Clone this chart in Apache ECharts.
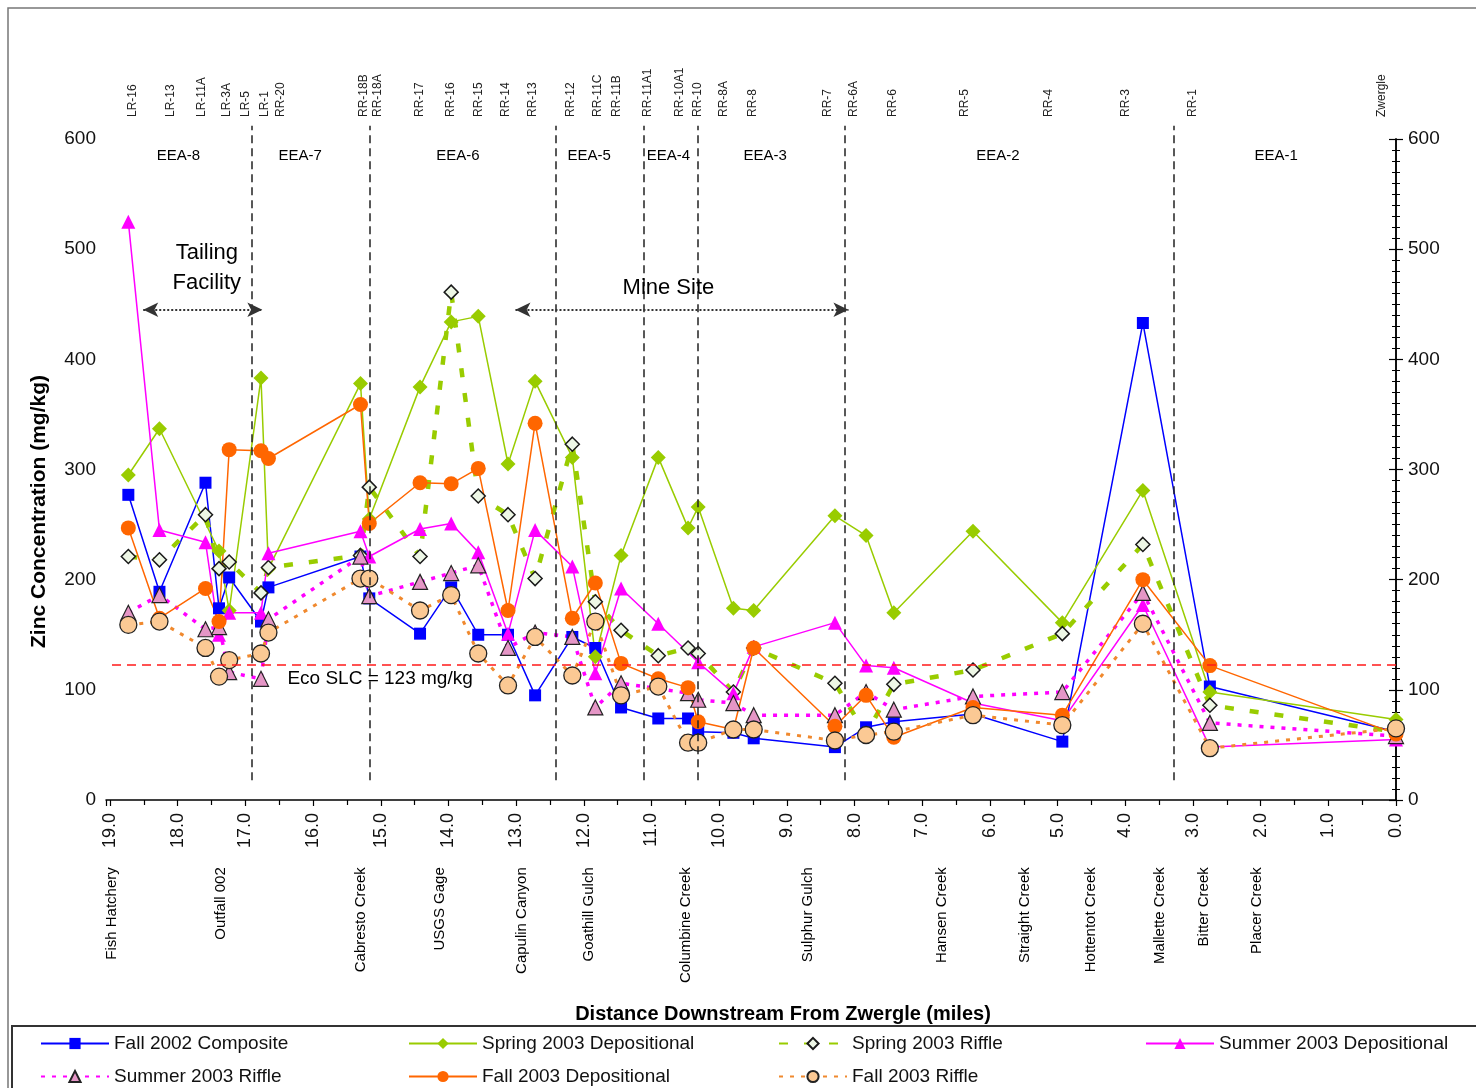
<!DOCTYPE html>
<html><head><meta charset="utf-8">
<script src="https://cdn.jsdelivr.net/npm/echarts@6/dist/echarts.min.js"></script>
<style>html,body{margin:0;padding:0;background:#fff}#c{width:1476px;height:1088px}</style>
</head><body><div id="c"></div>
<script>
// ---------- DATA ----------
const stations = ['LR-16','LR-13','LR-11A','LR-3A','LR-5','LR-1','RR-20','RR-18B','RR-18A','RR-17','RR-16','RR-15','RR-14','RR-13','RR-12','RR-11C','RR-11B','RR-11A1','RR-10A1','RR-10','RR-8A','RR-8','RR-7','RR-6A','RR-6','RR-5','RR-4','RR-3','RR-1','Zwergle'];
const stationMiles = [18.73,18.27,17.59,17.39,17.24,16.77,16.66,15.30,15.17,14.42,13.96,13.56,13.12,12.72,12.17,11.83,11.45,10.90,10.46,10.31,9.79,9.49,8.29,7.83,7.42,6.25,4.93,3.74,2.75,0.0];
const stationLabelMiles = [18.66,18.11,17.64,17.27,17.00,16.71,16.48,15.26,15.05,14.42,13.97,13.56,13.16,12.76,12.19,11.80,11.51,11.05,10.58,10.32,9.94,9.50,8.40,8.02,7.44,6.37,5.13,4.00,3.00,0.21];

const fall2002Composite    = [277,189,288,174,202,162,193,221,183,151,193,150,150,95,148,138,84,74,74,62,61,56,48,66,71,78,53,433,103,62];
const spring2003Dep        = [295,337,null,226,172,383,210,378,255,375,434,439,305,380,311,130,222,311,247,266,174,172,258,240,170,244,161,281,98,73];
const spring2003Riffle     = [221,218,259,210,216,188,211,222,284,221,461,276,259,201,323,180,154,131,138,133,98,138,106,60,105,118,151,232,86,62];
const summer2003Dep        = [525,245,234,150,170,170,224,244,221,246,251,225,151,245,212,115,192,160,null,125,97,139,161,122,120,88,72,177,48,55];
const summer2003Riffle     = [170,186,155,157,116,110,164,221,185,198,206,213,138,152,148,84,106,null,97,91,88,77,77,98,82,94,98,188,70,58];
const fall2003Dep          = [247,165,192,162,318,317,310,359,251,288,287,301,172,342,165,197,124,110,102,71,64,138,67,95,57,84,77,200,122,60];
const fall2003Riffle       = [159,162,138,112,127,133,152,201,201,172,186,133,104,148,113,162,95,103,52,52,64,64,54,59,62,77,68,160,47,65];

const zoneNames = ['EEA-8','EEA-7','EEA-6','EEA-5','EEA-4','EEA-3','EEA-2','EEA-1'];
const zoneLabelMiles = [17.99,16.19,13.86,11.92,10.75,9.32,5.88,1.77];
const zoneBoundaryMiles = [16.90,15.17,12.42,11.12,10.32,8.14,3.29];

const landmarks = ['Fish Hatchery','Outfall 002','Cabresto Creek','USGS Gage','Capulin Canyon','Goathill Gulch','Columbine Creek','Sulphur Gulch','Hansen Creek','Straight Creek','Hottentot Creek','Mallette Creek','Bitter Creek','Placer Creek'];
const landmarkMiles = [18.97,17.36,15.30,14.12,12.92,11.93,10.49,8.69,6.71,5.48,4.51,3.49,2.84,2.05];

const ecoSLC = 123;
const tailingArrowMiles = [18.51,16.75];
const mineArrowMiles = [13.01,8.09];

const yTicks = [0,100,200,300,400,500,600];
const xMin = 0, xMax = 19.06;

// ---------- LAYOUT ----------
const FONT = 'Liberation Sans, Arial, sans-serif';
const GRID = {left:106, right:80, top:139, bottom:288};
const pxPerUnit = (1088 - GRID.top - GRID.bottom) / 600;
const OV_MIN = -200, OV_MAX = 680;
const ovTop = GRID.top - (OV_MAX - 600) * pxPerUnit;
const ovBottom = GRID.bottom - (0 - OV_MIN) * pxPerUnit;

function pairs(vals){ return stationMiles.map((m,i)=> vals[i]==null ? [m,'-'] : [m, vals[i]]); }

function lineSeries(name, vals, opt){
  return Object.assign({
    name, type:'line', xAxisIndex:0, yAxisIndex:0, data:pairs(vals),
    connectNulls:true, animation:false, clip:false
  }, opt);
}

const textBase = {fontFamily:FONT, color:'#000', textBorderWidth:0, opacity:1};
const overlayBase = {
  type:'scatter', xAxisIndex:1, yAxisIndex:2, silent:true, animation:false, symbolSize:1,
  itemStyle:{color:'#ffffff', opacity:1}, z:5
};

const series = [
  lineSeries('Fall 2002 Composite', fall2002Composite, {
    symbol:'rect', symbolSize:12, itemStyle:{color:'#0000FF'}, lineStyle:{color:'#0000FF', width:1.5},
    markLine:{silent:true, symbol:['none','none'], label:{show:false}, lineStyle:{color:'#FF1A1A', type:[9,6], width:1.5},
      data:[{yAxis:ecoSLC}]}
  }),
  lineSeries('Spring 2003 Depositional', spring2003Dep, {
    symbol:'diamond', symbolSize:15, itemStyle:{color:'#99CC00'}, lineStyle:{color:'#99CC00', width:1.5}
  }),
  lineSeries('Spring 2003 Riffle', spring2003Riffle, {
    symbol:'diamond', symbolSize:14, itemStyle:{color:'#EEF7E6', borderColor:'#1a1a1a', borderWidth:1.5},
    lineStyle:{color:'#99CC00', width:4.5, type:[9,16]}
  }),
  lineSeries('Summer 2003 Depositional', summer2003Dep, {
    symbol:'triangle', symbolSize:14, itemStyle:{color:'#FF00FF'}, lineStyle:{color:'#FF00FF', width:1.5}
  }),
  lineSeries('Summer 2003 Riffle', summer2003Riffle, {
    symbol:'triangle', symbolSize:15, itemStyle:{color:'#E596C6', borderColor:'#222', borderWidth:1.2},
    lineStyle:{color:'#FF00FF', width:3.5, type:[4,7]}
  }),
  lineSeries('Fall 2003 Depositional', fall2003Dep, {
    symbol:'circle', symbolSize:15, itemStyle:{color:'#FF6600'}, lineStyle:{color:'#FF6600', width:1.5}
  }),
  lineSeries('Fall 2003 Riffle', fall2003Riffle, {
    symbol:'circle', symbolSize:17, itemStyle:{color:'#FBC994', borderColor:'#222', borderWidth:1.3},
    lineStyle:{color:'#F0892E', width:3, type:[4,7]}
  }),
  // overlay: station names at top
  Object.assign({}, overlayBase, {
    data: stations.map((s,i)=>({name:s, value:[stationLabelMiles[i], 620]})),
    label:Object.assign({show:true, position:'inside', rotate:90, align:'left', verticalAlign:'middle', formatter:'{b}',
      fontSize:12, color:'#222'}, {fontFamily:FONT, textBorderWidth:0})
  }),
  // overlay: zone names + boundary lines
  Object.assign({}, overlayBase, {
    data: zoneNames.map((s,i)=>({name:s, value:[zoneLabelMiles[i], 584.6]})),
    label:Object.assign({}, textBase, {show:true, position:'inside', align:'center', verticalAlign:'middle', formatter:'{b}',
      fontSize:15}),
    markLine:{silent:true, symbol:['none','none'], label:{show:false}, animation:false,
      lineStyle:{color:'#222', type:[8,5], width:1.5},
      data: zoneBoundaryMiles.map(m=>[{coord:[m,18]},{coord:[m,612]}])}
  }),
  // overlay: landmarks below axis
  Object.assign({}, overlayBase, {
    data: landmarks.map((s,i)=>({name:s, value:[landmarkMiles[i], -61]})),
    label:Object.assign({}, textBase, {show:true, position:'inside', rotate:90, align:'right', verticalAlign:'middle', formatter:'{b}',
      fontSize:15})
  }),
  // overlay: annotations + arrows
  Object.assign({}, overlayBase, {
    data:[
      {name:'Tailing\nFacility', value:[17.57, 483], label:{fontSize:22, lineHeight:30, align:'center'}},
      {name:'Mine Site', value:[10.75, 465], label:{fontSize:22, align:'center'}},
      {name:'Eco SLC = 123 mg/kg', value:[16.38, 110], label:{fontSize:19, align:'left'}}
    ],
    label:Object.assign({}, textBase, {show:true, position:'inside', verticalAlign:'middle', formatter:'{b}'}),
    markLine:{silent:true, symbol:['arrow','arrow'], symbolSize:[11,15], label:{show:false}, animation:false,
      lineStyle:{color:'#333', type:'dotted', width:2},
      data:[
        [{coord:[tailingArrowMiles[0],445]},{coord:[tailingArrowMiles[1],445]}],
        [{coord:[mineArrowMiles[0],445]},{coord:[mineArrowMiles[1],445]}]
      ]}
  })
];

const yAxisBase = {
  type:'value', gridIndex:0, min:yTicks[0], max:yTicks[yTicks.length-1], interval:100,
  axisLine:{show:true, lineStyle:{color:'#000', width:1.5}},
  axisTick:{show:true, length:7, lineStyle:{color:'#000', width:1.2}},
  minorTick:{show:true, splitNumber:10, length:4, lineStyle:{color:'#000', width:1}},
  splitLine:{show:false},
  axisLabel:{fontFamily:FONT, fontSize:19, color:'#111', margin:10}
};

const legendBase = {
  orient:'vertical', itemWidth:68, itemHeight:14, itemGap:14, top:1034,
  textStyle:{fontFamily:FONT, fontSize:19, color:'#111'}, selectedMode:false, padding:0
};

const option = {
  backgroundColor:'#fff',
  animation:false,
  grid:[
    {left:GRID.left, right:GRID.right, top:GRID.top, bottom:GRID.bottom, outerBoundsMode:'none', containLabel:false},
    {left:GRID.left, right:GRID.right, top:ovTop, bottom:ovBottom, outerBoundsMode:'none', containLabel:false}
  ],
  xAxis:[
    {type:'value', gridIndex:0, min:xMin, max:xMax, interval:1, inverse:true,
     axisLine:{show:true, onZero:false, lineStyle:{color:'#000', width:1.5}},
     axisTick:{show:true, length:6, lineStyle:{color:'#000', width:1.2}},
     minorTick:{show:true, splitNumber:2, length:5, lineStyle:{color:'#000', width:1.2}},
     splitLine:{show:false},
     axisLabel:{rotate:90, fontFamily:FONT, fontSize:18, color:'#111', margin:13, showMaxLabel:false,
       formatter:v=>v.toFixed(1)},
     name:'Distance Downstream From Zwergle (miles)', nameLocation:'middle', nameGap:204,
     nameTextStyle:{fontFamily:FONT, fontSize:20, fontWeight:'bold', color:'#000', padding:[0,0,0,64]}
    },
    {type:'value', gridIndex:1, min:xMin, max:xMax, inverse:true, show:false}
  ],
  yAxis:[
    Object.assign({}, yAxisBase, {position:'left',
      name:'Zinc Concentration (mg/kg)', nameLocation:'middle', nameGap:56, nameRotate:90,
      nameTextStyle:{fontFamily:FONT, fontSize:21, fontWeight:'bold', color:'#000', padding:[0,84,0,0]}}),
    Object.assign({}, yAxisBase, {position:'right', axisLabel:{fontFamily:FONT, fontSize:19, color:'#111', margin:12}}),
    {type:'value', gridIndex:1, min:OV_MIN, max:OV_MAX, show:false}
  ],
  legend:[
    Object.assign({}, legendBase, {left:40, data:['Fall 2002 Composite','Summer 2003 Riffle']}),
    Object.assign({}, legendBase, {left:408, data:['Spring 2003 Depositional','Fall 2003 Depositional']}),
    Object.assign({}, legendBase, {left:778, data:['Spring 2003 Riffle','Fall 2003 Riffle']}),
    Object.assign({}, legendBase, {left:1145, data:['Summer 2003 Depositional']})
  ],
  graphic:[
    {type:'rect', silent:true, z:-10, shape:{x:8,y:8,width:1480,height:1090}, style:{fill:'none', stroke:'#777', lineWidth:1.5}},
    {type:'rect', silent:true, z:-10, shape:{x:12,y:1026,width:1470,height:70}, style:{fill:'none', stroke:'#333', lineWidth:2}}
  ],
  series
};

const chart = echarts.init(document.getElementById('c'), null, {renderer:'canvas'});
chart.setOption(option);
</script>
</body></html>
